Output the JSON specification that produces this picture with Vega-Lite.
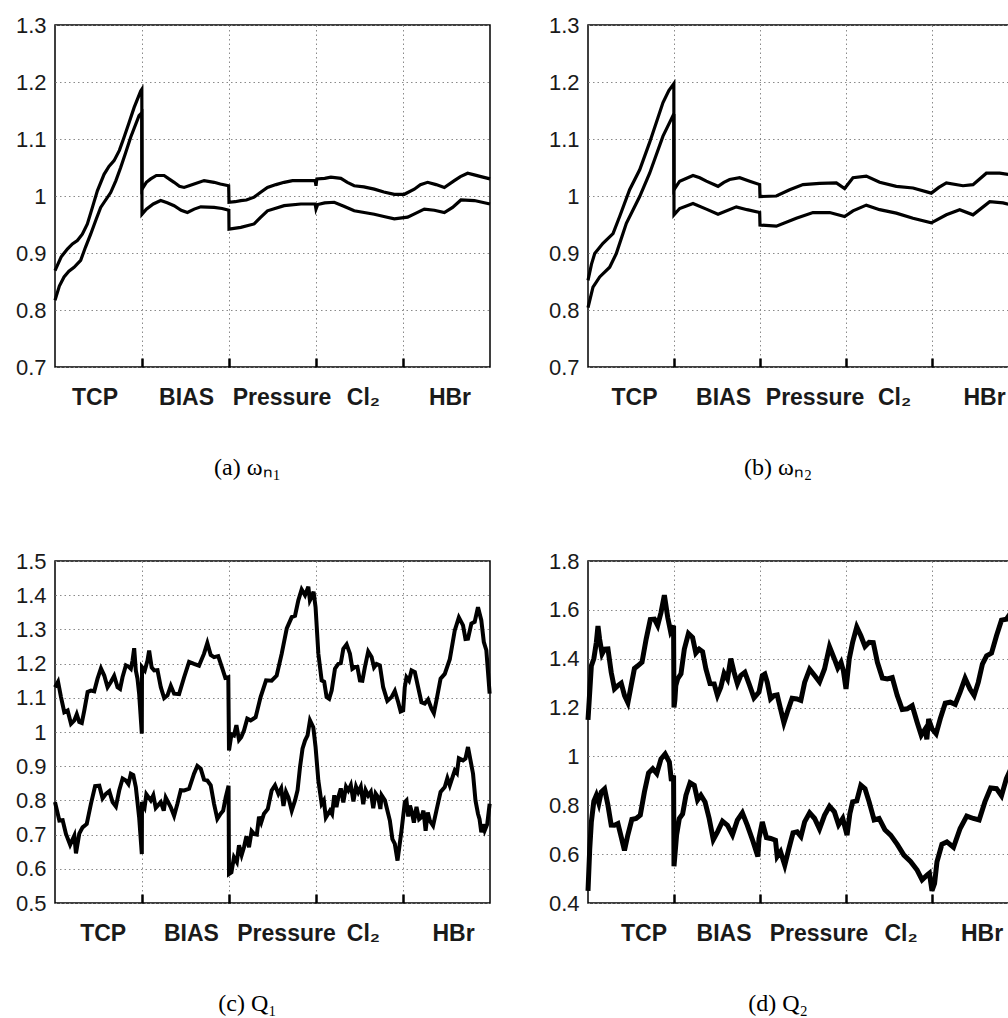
{
"$schema": "https://vega.github.io/schema/vega-lite/v6.json",
"background": "white",
"padding": {"left": 0, "top": 13, "right": 0, "bottom": 0},
"columns": 2,
"spacing": {"row": 68, "column": 34},
"config": {
  "view": {"stroke": "black", "strokeWidth": 1.5},
  "axis": {"domain": false, "grid": true, "gridColor": "#8a8a8a", "gridDash": [1.5, 3], "gridWidth": 1, "labelColor": "#1a1a1a", "labelFont": "Liberation Sans", "labelFlush": false, "labelOverlap": false, "title": null},
  "axisX": {"labelFontSize": 23, "labelFontWeight": "bold", "tickSize": -9, "tickWidth": 2.5, "tickColor": "black", "labelPadding": 28},
  "axisY": {"labelFontSize": 22, "ticks": false, "labelPadding": 9, "minExtent": 54, "maxExtent": 54},
  "title": {"font": "Liberation Serif", "fontSize": 24, "fontWeight": "normal", "color": "black", "orient": "bottom", "offset": 47, "anchor": "middle", "dx": -25}
},
"datasets": {
"a": [
{"x":0,"v":0.869,"s":"u"},{"x":0.07,"v":0.893,"s":"u"},{"x":0.142,"v":0.907,"s":"u"},{"x":0.2,"v":0.916,"s":"u"},{"x":0.257,"v":0.922,"s":"u"},{"x":0.314,"v":0.933,"s":"u"},{"x":0.372,"v":0.951,"s":"u"},{"x":0.43,"v":0.98,"s":"u"},{"x":0.487,"v":1.009,"s":"u"},{"x":0.564,"v":1.038,"s":"u"},{"x":0.62,"v":1.052,"s":"u"},{"x":0.679,"v":1.062,"s":"u"},{"x":0.74,"v":1.08,"s":"u"},{"x":0.794,"v":1.103,"s":"u"},{"x":0.85,"v":1.128,"s":"u"},{"x":0.909,"v":1.155,"s":"u"},{"x":0.985,"v":1.184,"s":"u"},{"x":0.998,"v":1.187,"s":"u"},{"x":1.0,"v":1.012,"s":"u"},{"x":1.05,"v":1.024,"s":"u"},{"x":1.1,"v":1.03,"s":"u"},{"x":1.165,"v":1.036,"s":"u"},{"x":1.254,"v":1.036,"s":"u"},{"x":1.31,"v":1.03,"s":"u"},{"x":1.369,"v":1.024,"s":"u"},{"x":1.43,"v":1.017,"s":"u"},{"x":1.484,"v":1.015,"s":"u"},{"x":1.54,"v":1.018,"s":"u"},{"x":1.599,"v":1.021,"s":"u"},{"x":1.714,"v":1.027,"s":"u"},{"x":1.829,"v":1.024,"s":"u"},{"x":1.9,"v":1.021,"s":"u"},{"x":1.996,"v":1.018,"s":"u"},{"x":2.0,"v":0.989,"s":"u"},{"x":2.07,"v":0.99,"s":"u"},{"x":2.136,"v":0.992,"s":"u"},{"x":2.2,"v":0.993,"s":"u"},{"x":2.289,"v":0.998,"s":"u"},{"x":2.36,"v":1.006,"s":"u"},{"x":2.442,"v":1.015,"s":"u"},{"x":2.54,"v":1.02,"s":"u"},{"x":2.634,"v":1.024,"s":"u"},{"x":2.73,"v":1.027,"s":"u"},{"x":2.826,"v":1.027,"s":"u"},{"x":2.99,"v":1.027,"s":"u"},{"x":3.0,"v":1.018,"s":"u"},{"x":3.01,"v":1.03,"s":"u"},{"x":3.1,"v":1.031,"s":"u"},{"x":3.171,"v":1.033,"s":"u"},{"x":3.286,"v":1.031,"s":"u"},{"x":3.36,"v":1.024,"s":"u"},{"x":3.439,"v":1.018,"s":"u"},{"x":3.55,"v":1.016,"s":"u"},{"x":3.67,"v":1.012,"s":"u"},{"x":3.78,"v":1.007,"s":"u"},{"x":3.9,"v":1.003,"s":"u"},{"x":4.015,"v":1.003,"s":"u"},{"x":4.13,"v":1.012,"s":"u"},{"x":4.2,"v":1.02,"s":"u"},{"x":4.283,"v":1.024,"s":"u"},{"x":4.38,"v":1.02,"s":"u"},{"x":4.475,"v":1.015,"s":"u"},{"x":4.59,"v":1.027,"s":"u"},{"x":4.66,"v":1.034,"s":"u"},{"x":4.743,"v":1.04,"s":"u"},{"x":4.82,"v":1.037,"s":"u"},{"x":4.896,"v":1.034,"s":"u"},{"x":5,"v":1.03,"s":"u"},
{"x":0,"v":0.817,"s":"l"},{"x":0.05,"v":0.842,"s":"l"},{"x":0.104,"v":0.858,"s":"l"},{"x":0.16,"v":0.868,"s":"l"},{"x":0.219,"v":0.875,"s":"l"},{"x":0.295,"v":0.887,"s":"l"},{"x":0.35,"v":0.91,"s":"l"},{"x":0.41,"v":0.933,"s":"l"},{"x":0.47,"v":0.958,"s":"l"},{"x":0.525,"v":0.98,"s":"l"},{"x":0.64,"v":1.006,"s":"l"},{"x":0.7,"v":1.027,"s":"l"},{"x":0.755,"v":1.05,"s":"l"},{"x":0.81,"v":1.075,"s":"l"},{"x":0.87,"v":1.103,"s":"l"},{"x":0.966,"v":1.141,"s":"l"},{"x":0.998,"v":1.146,"s":"l"},{"x":1.0,"v":0.968,"s":"l"},{"x":1.05,"v":0.977,"s":"l"},{"x":1.13,"v":0.986,"s":"l"},{"x":1.215,"v":0.992,"s":"l"},{"x":1.29,"v":0.988,"s":"l"},{"x":1.369,"v":0.983,"s":"l"},{"x":1.45,"v":0.975,"s":"l"},{"x":1.522,"v":0.971,"s":"l"},{"x":1.6,"v":0.977,"s":"l"},{"x":1.676,"v":0.981,"s":"l"},{"x":1.829,"v":0.98,"s":"l"},{"x":1.92,"v":0.978,"s":"l"},{"x":1.998,"v":0.975,"s":"l"},{"x":2.0,"v":0.942,"s":"l"},{"x":2.136,"v":0.945,"s":"l"},{"x":2.289,"v":0.951,"s":"l"},{"x":2.36,"v":0.962,"s":"l"},{"x":2.442,"v":0.974,"s":"l"},{"x":2.634,"v":0.983,"s":"l"},{"x":2.826,"v":0.986,"s":"l"},{"x":2.99,"v":0.986,"s":"l"},{"x":3.0,"v":0.977,"s":"l"},{"x":3.02,"v":0.985,"s":"l"},{"x":3.1,"v":0.988,"s":"l"},{"x":3.209,"v":0.989,"s":"l"},{"x":3.32,"v":0.982,"s":"l"},{"x":3.439,"v":0.974,"s":"l"},{"x":3.67,"v":0.968,"s":"l"},{"x":3.78,"v":0.964,"s":"l"},{"x":3.9,"v":0.96,"s":"l"},{"x":4.053,"v":0.963,"s":"l"},{"x":4.15,"v":0.97,"s":"l"},{"x":4.245,"v":0.977,"s":"l"},{"x":4.36,"v":0.975,"s":"l"},{"x":4.475,"v":0.971,"s":"l"},{"x":4.57,"v":0.98,"s":"l"},{"x":4.666,"v":0.993,"s":"l"},{"x":4.82,"v":0.992,"s":"l"},{"x":5,"v":0.986,"s":"l"}
],
"b": [
{"x":0,"v":0.852,"s":"u"},{"x":0.04,"v":0.88,"s":"u"},{"x":0.078,"v":0.899,"s":"u"},{"x":0.174,"v":0.917,"s":"u"},{"x":0.291,"v":0.934,"s":"u"},{"x":0.368,"v":0.964,"s":"u"},{"x":0.484,"v":1.011,"s":"u"},{"x":0.601,"v":1.046,"s":"u"},{"x":0.717,"v":1.094,"s":"u"},{"x":0.872,"v":1.164,"s":"u"},{"x":0.94,"v":1.185,"s":"u"},{"x":0.998,"v":1.197,"s":"u"},{"x":1.0,"v":1.011,"s":"u"},{"x":1.066,"v":1.026,"s":"u"},{"x":1.221,"v":1.036,"s":"u"},{"x":1.3,"v":1.032,"s":"u"},{"x":1.376,"v":1.026,"s":"u"},{"x":1.512,"v":1.017,"s":"u"},{"x":1.58,"v":1.024,"s":"u"},{"x":1.647,"v":1.029,"s":"u"},{"x":1.764,"v":1.032,"s":"u"},{"x":1.88,"v":1.026,"s":"u"},{"x":1.996,"v":1.02,"s":"u"},{"x":2.0,"v":0.999,"s":"u"},{"x":2.19,"v":1.0,"s":"u"},{"x":2.345,"v":1.011,"s":"u"},{"x":2.5,"v":1.02,"s":"u"},{"x":2.694,"v":1.022,"s":"u"},{"x":2.888,"v":1.023,"s":"u"},{"x":2.984,"v":1.013,"s":"u"},{"x":3.081,"v":1.032,"s":"u"},{"x":3.236,"v":1.035,"s":"u"},{"x":3.391,"v":1.024,"s":"u"},{"x":3.585,"v":1.017,"s":"u"},{"x":3.779,"v":1.014,"s":"u"},{"x":3.992,"v":1.005,"s":"u"},{"x":4.08,"v":1.015,"s":"u"},{"x":4.167,"v":1.023,"s":"u"},{"x":4.36,"v":1.018,"s":"u"},{"x":4.477,"v":1.02,"s":"u"},{"x":4.632,"v":1.04,"s":"u"},{"x":4.787,"v":1.04,"s":"u"},{"x":5,"v":1.035,"s":"u"},
{"x":0,"v":0.804,"s":"l"},{"x":0.058,"v":0.84,"s":"l"},{"x":0.136,"v":0.858,"s":"l"},{"x":0.252,"v":0.875,"s":"l"},{"x":0.329,"v":0.899,"s":"l"},{"x":0.446,"v":0.952,"s":"l"},{"x":0.601,"v":0.999,"s":"l"},{"x":0.717,"v":1.04,"s":"l"},{"x":0.872,"v":1.105,"s":"l"},{"x":0.998,"v":1.144,"s":"l"},{"x":1.0,"v":0.967,"s":"l"},{"x":1.066,"v":0.978,"s":"l"},{"x":1.221,"v":0.987,"s":"l"},{"x":1.376,"v":0.977,"s":"l"},{"x":1.512,"v":0.968,"s":"l"},{"x":1.725,"v":0.981,"s":"l"},{"x":1.85,"v":0.976,"s":"l"},{"x":1.996,"v":0.971,"s":"l"},{"x":2.0,"v":0.949,"s":"l"},{"x":2.19,"v":0.947,"s":"l"},{"x":2.422,"v":0.961,"s":"l"},{"x":2.616,"v":0.971,"s":"l"},{"x":2.81,"v":0.971,"s":"l"},{"x":2.984,"v":0.964,"s":"l"},{"x":3.081,"v":0.974,"s":"l"},{"x":3.236,"v":0.984,"s":"l"},{"x":3.391,"v":0.976,"s":"l"},{"x":3.585,"v":0.97,"s":"l"},{"x":3.779,"v":0.961,"s":"l"},{"x":3.992,"v":0.953,"s":"l"},{"x":4.167,"v":0.967,"s":"l"},{"x":4.322,"v":0.976,"s":"l"},{"x":4.477,"v":0.967,"s":"l"},{"x":4.671,"v":0.99,"s":"l"},{"x":4.826,"v":0.988,"s":"l"},{"x":5,"v":0.981,"s":"l"}
],
"c": [
{"x":0,"v":1.131,"s":"u"},{"x":0.035,"v":1.147,"s":"u"},{"x":0.069,"v":1.102,"s":"u"},{"x":0.107,"v":1.058,"s":"u"},{"x":0.145,"v":1.063,"s":"u"},{"x":0.184,"v":1.024,"s":"u"},{"x":0.222,"v":1.034,"s":"u"},{"x":0.25,"v":1.052,"s":"u"},{"x":0.279,"v":1.029,"s":"u"},{"x":0.308,"v":1.026,"s":"u"},{"x":0.337,"v":1.063,"s":"u"},{"x":0.375,"v":1.117,"s":"u"},{"x":0.413,"v":1.121,"s":"u"},{"x":0.451,"v":1.119,"s":"u"},{"x":0.489,"v":1.156,"s":"u"},{"x":0.528,"v":1.186,"s":"u"},{"x":0.566,"v":1.165,"s":"u"},{"x":0.604,"v":1.131,"s":"u"},{"x":0.642,"v":1.146,"s":"u"},{"x":0.68,"v":1.164,"s":"u"},{"x":0.719,"v":1.131,"s":"u"},{"x":0.748,"v":1.126,"s":"u"},{"x":0.776,"v":1.16,"s":"u"},{"x":0.815,"v":1.195,"s":"u"},{"x":0.853,"v":1.19,"s":"u"},{"x":0.872,"v":1.185,"s":"u"},{"x":0.891,"v":1.209,"s":"u"},{"x":0.91,"v":1.245,"s":"u"},{"x":0.929,"v":1.18,"s":"u"},{"x":0.948,"v":1.156,"s":"u"},{"x":0.967,"v":1.112,"s":"u"},{"x":0.998,"v":0.995,"s":"u"},{"x":1.0,"v":1.19,"s":"u"},{"x":1.032,"v":1.18,"s":"u"},{"x":1.063,"v":1.209,"s":"u"},{"x":1.082,"v":1.238,"s":"u"},{"x":1.111,"v":1.189,"s":"u"},{"x":1.14,"v":1.18,"s":"u"},{"x":1.178,"v":1.181,"s":"u"},{"x":1.216,"v":1.131,"s":"u"},{"x":1.255,"v":1.099,"s":"u"},{"x":1.293,"v":1.107,"s":"u"},{"x":1.331,"v":1.135,"s":"u"},{"x":1.369,"v":1.112,"s":"u"},{"x":1.426,"v":1.111,"s":"u"},{"x":1.484,"v":1.16,"s":"u"},{"x":1.541,"v":1.205,"s":"u"},{"x":1.598,"v":1.199,"s":"u"},{"x":1.655,"v":1.194,"s":"u"},{"x":1.713,"v":1.229,"s":"u"},{"x":1.751,"v":1.26,"s":"u"},{"x":1.79,"v":1.225,"s":"u"},{"x":1.828,"v":1.219,"s":"u"},{"x":1.876,"v":1.222,"s":"u"},{"x":1.924,"v":1.185,"s":"u"},{"x":1.958,"v":1.158,"s":"u"},{"x":1.992,"v":1.16,"s":"u"},{"x":2.0,"v":0.946,"s":"u"},{"x":2.028,"v":0.993,"s":"u"},{"x":2.057,"v":0.99,"s":"u"},{"x":2.085,"v":1.02,"s":"u"},{"x":2.115,"v":0.977,"s":"u"},{"x":2.14,"v":0.985,"s":"u"},{"x":2.172,"v":1.004,"s":"u"},{"x":2.21,"v":1.039,"s":"u"},{"x":2.249,"v":1.034,"s":"u"},{"x":2.306,"v":1.043,"s":"u"},{"x":2.363,"v":1.102,"s":"u"},{"x":2.426,"v":1.151,"s":"u"},{"x":2.49,"v":1.15,"s":"u"},{"x":2.548,"v":1.165,"s":"u"},{"x":2.606,"v":1.229,"s":"u"},{"x":2.664,"v":1.303,"s":"u"},{"x":2.721,"v":1.336,"s":"u"},{"x":2.759,"v":1.34,"s":"u"},{"x":2.797,"v":1.385,"s":"u"},{"x":2.835,"v":1.417,"s":"u"},{"x":2.874,"v":1.4,"s":"u"},{"x":2.912,"v":1.425,"s":"u"},{"x":2.93,"v":1.385,"s":"u"},{"x":2.95,"v":1.395,"s":"u"},{"x":2.972,"v":1.41,"s":"u"},{"x":2.995,"v":1.365,"s":"u"},{"x":3.027,"v":1.229,"s":"u"},{"x":3.065,"v":1.151,"s":"u"},{"x":3.094,"v":1.147,"s":"u"},{"x":3.122,"v":1.102,"s":"u"},{"x":3.151,"v":1.097,"s":"u"},{"x":3.18,"v":1.121,"s":"u"},{"x":3.218,"v":1.185,"s":"u"},{"x":3.256,"v":1.199,"s":"u"},{"x":3.285,"v":1.201,"s":"u"},{"x":3.314,"v":1.243,"s":"u"},{"x":3.352,"v":1.256,"s":"u"},{"x":3.39,"v":1.229,"s":"u"},{"x":3.418,"v":1.185,"s":"u"},{"x":3.447,"v":1.19,"s":"u"},{"x":3.476,"v":1.19,"s":"u"},{"x":3.505,"v":1.151,"s":"u"},{"x":3.533,"v":1.15,"s":"u"},{"x":3.562,"v":1.19,"s":"u"},{"x":3.6,"v":1.235,"s":"u"},{"x":3.639,"v":1.219,"s":"u"},{"x":3.667,"v":1.189,"s":"u"},{"x":3.696,"v":1.199,"s":"u"},{"x":3.734,"v":1.195,"s":"u"},{"x":3.772,"v":1.131,"s":"u"},{"x":3.82,"v":1.091,"s":"u"},{"x":3.868,"v":1.102,"s":"u"},{"x":3.906,"v":1.12,"s":"u"},{"x":3.945,"v":1.087,"s":"u"},{"x":3.973,"v":1.06,"s":"u"},{"x":4.002,"v":1.063,"s":"u"},{"x":4.02,"v":1.13,"s":"u"},{"x":4.04,"v":1.16,"s":"u"},{"x":4.069,"v":1.15,"s":"u"},{"x":4.098,"v":1.18,"s":"u"},{"x":4.136,"v":1.175,"s":"u"},{"x":4.174,"v":1.131,"s":"u"},{"x":4.212,"v":1.087,"s":"u"},{"x":4.25,"v":1.083,"s":"u"},{"x":4.288,"v":1.095,"s":"u"},{"x":4.327,"v":1.068,"s":"u"},{"x":4.355,"v":1.055,"s":"u"},{"x":4.384,"v":1.092,"s":"u"},{"x":4.432,"v":1.156,"s":"u"},{"x":4.48,"v":1.17,"s":"u"},{"x":4.538,"v":1.213,"s":"u"},{"x":4.595,"v":1.297,"s":"u"},{"x":4.642,"v":1.335,"s":"u"},{"x":4.69,"v":1.312,"s":"u"},{"x":4.718,"v":1.272,"s":"u"},{"x":4.747,"v":1.273,"s":"u"},{"x":4.786,"v":1.317,"s":"u"},{"x":4.824,"v":1.322,"s":"u"},{"x":4.862,"v":1.365,"s":"u"},{"x":4.9,"v":1.327,"s":"u"},{"x":4.929,"v":1.263,"s":"u"},{"x":4.958,"v":1.239,"s":"u"},{"x":4.996,"v":1.112,"s":"u"},
{"x":0,"v":0.795,"s":"l"},{"x":0.05,"v":0.741,"s":"l"},{"x":0.088,"v":0.742,"s":"l"},{"x":0.126,"v":0.702,"s":"l"},{"x":0.174,"v":0.67,"s":"l"},{"x":0.222,"v":0.697,"s":"l"},{"x":0.241,"v":0.645,"s":"l"},{"x":0.279,"v":0.703,"s":"l"},{"x":0.317,"v":0.721,"s":"l"},{"x":0.365,"v":0.731,"s":"l"},{"x":0.413,"v":0.79,"s":"l"},{"x":0.461,"v":0.842,"s":"l"},{"x":0.509,"v":0.843,"s":"l"},{"x":0.547,"v":0.806,"s":"l"},{"x":0.585,"v":0.819,"s":"l"},{"x":0.624,"v":0.827,"s":"l"},{"x":0.662,"v":0.795,"s":"l"},{"x":0.7,"v":0.782,"s":"l"},{"x":0.738,"v":0.829,"s":"l"},{"x":0.777,"v":0.864,"s":"l"},{"x":0.815,"v":0.858,"s":"l"},{"x":0.844,"v":0.848,"s":"l"},{"x":0.872,"v":0.878,"s":"l"},{"x":0.9,"v":0.874,"s":"l"},{"x":0.929,"v":0.839,"s":"l"},{"x":0.967,"v":0.751,"s":"l"},{"x":0.998,"v":0.643,"s":"l"},{"x":1.0,"v":0.795,"s":"l"},{"x":1.03,"v":0.78,"s":"l"},{"x":1.05,"v":0.818,"s":"l"},{"x":1.101,"v":0.8,"s":"l"},{"x":1.13,"v":0.815,"s":"l"},{"x":1.158,"v":0.778,"s":"l"},{"x":1.216,"v":0.795,"s":"l"},{"x":1.25,"v":0.77,"s":"l"},{"x":1.273,"v":0.808,"s":"l"},{"x":1.331,"v":0.78,"s":"l"},{"x":1.369,"v":0.755,"s":"l"},{"x":1.407,"v":0.79,"s":"l"},{"x":1.446,"v":0.83,"s":"l"},{"x":1.484,"v":0.829,"s":"l"},{"x":1.541,"v":0.834,"s":"l"},{"x":1.598,"v":0.878,"s":"l"},{"x":1.636,"v":0.901,"s":"l"},{"x":1.675,"v":0.893,"s":"l"},{"x":1.713,"v":0.861,"s":"l"},{"x":1.751,"v":0.858,"s":"l"},{"x":1.79,"v":0.844,"s":"l"},{"x":1.828,"v":0.79,"s":"l"},{"x":1.866,"v":0.746,"s":"l"},{"x":1.904,"v":0.761,"s":"l"},{"x":1.933,"v":0.77,"s":"l"},{"x":1.962,"v":0.809,"s":"l"},{"x":1.995,"v":0.843,"s":"l"},{"x":2.0,"v":0.585,"s":"l"},{"x":2.028,"v":0.59,"s":"l"},{"x":2.057,"v":0.634,"s":"l"},{"x":2.09,"v":0.62,"s":"l"},{"x":2.115,"v":0.669,"s":"l"},{"x":2.145,"v":0.64,"s":"l"},{"x":2.172,"v":0.663,"s":"l"},{"x":2.2,"v":0.695,"s":"l"},{"x":2.23,"v":0.663,"s":"l"},{"x":2.26,"v":0.71,"s":"l"},{"x":2.287,"v":0.702,"s":"l"},{"x":2.32,"v":0.7,"s":"l"},{"x":2.345,"v":0.752,"s":"l"},{"x":2.37,"v":0.735,"s":"l"},{"x":2.402,"v":0.761,"s":"l"},{"x":2.446,"v":0.775,"s":"l"},{"x":2.49,"v":0.829,"s":"l"},{"x":2.529,"v":0.844,"s":"l"},{"x":2.568,"v":0.819,"s":"l"},{"x":2.6,"v":0.835,"s":"l"},{"x":2.626,"v":0.784,"s":"l"},{"x":2.655,"v":0.825,"s":"l"},{"x":2.683,"v":0.809,"s":"l"},{"x":2.721,"v":0.77,"s":"l"},{"x":2.759,"v":0.8,"s":"l"},{"x":2.788,"v":0.83,"s":"l"},{"x":2.816,"v":0.897,"s":"l"},{"x":2.845,"v":0.951,"s":"l"},{"x":2.874,"v":0.975,"s":"l"},{"x":2.903,"v":0.99,"s":"l"},{"x":2.931,"v":1.034,"s":"l"},{"x":2.969,"v":1.014,"s":"l"},{"x":2.995,"v":0.956,"s":"l"},{"x":3.027,"v":0.858,"s":"l"},{"x":3.065,"v":0.79,"s":"l"},{"x":3.09,"v":0.8,"s":"l"},{"x":3.113,"v":0.75,"s":"l"},{"x":3.161,"v":0.77,"s":"l"},{"x":3.185,"v":0.76,"s":"l"},{"x":3.21,"v":0.815,"s":"l"},{"x":3.235,"v":0.78,"s":"l"},{"x":3.256,"v":0.809,"s":"l"},{"x":3.285,"v":0.835,"s":"l"},{"x":3.314,"v":0.794,"s":"l"},{"x":3.345,"v":0.84,"s":"l"},{"x":3.371,"v":0.829,"s":"l"},{"x":3.4,"v":0.845,"s":"l"},{"x":3.43,"v":0.797,"s":"l"},{"x":3.46,"v":0.84,"s":"l"},{"x":3.486,"v":0.824,"s":"l"},{"x":3.515,"v":0.84,"s":"l"},{"x":3.543,"v":0.789,"s":"l"},{"x":3.57,"v":0.83,"s":"l"},{"x":3.6,"v":0.814,"s":"l"},{"x":3.63,"v":0.825,"s":"l"},{"x":3.658,"v":0.777,"s":"l"},{"x":3.685,"v":0.82,"s":"l"},{"x":3.715,"v":0.809,"s":"l"},{"x":3.74,"v":0.775,"s":"l"},{"x":3.754,"v":0.815,"s":"l"},{"x":3.792,"v":0.8,"s":"l"},{"x":3.849,"v":0.741,"s":"l"},{"x":3.878,"v":0.687,"s":"l"},{"x":3.906,"v":0.673,"s":"l"},{"x":3.937,"v":0.624,"s":"l"},{"x":3.983,"v":0.712,"s":"l"},{"x":4.021,"v":0.795,"s":"l"},{"x":4.04,"v":0.8,"s":"l"},{"x":4.06,"v":0.753,"s":"l"},{"x":4.08,"v":0.785,"s":"l"},{"x":4.098,"v":0.77,"s":"l"},{"x":4.125,"v":0.735,"s":"l"},{"x":4.155,"v":0.781,"s":"l"},{"x":4.185,"v":0.745,"s":"l"},{"x":4.212,"v":0.751,"s":"l"},{"x":4.235,"v":0.77,"s":"l"},{"x":4.26,"v":0.711,"s":"l"},{"x":4.285,"v":0.765,"s":"l"},{"x":4.308,"v":0.741,"s":"l"},{"x":4.346,"v":0.726,"s":"l"},{"x":4.384,"v":0.77,"s":"l"},{"x":4.432,"v":0.825,"s":"l"},{"x":4.48,"v":0.839,"s":"l"},{"x":4.51,"v":0.865,"s":"l"},{"x":4.538,"v":0.844,"s":"l"},{"x":4.595,"v":0.888,"s":"l"},{"x":4.62,"v":0.88,"s":"l"},{"x":4.642,"v":0.923,"s":"l"},{"x":4.69,"v":0.917,"s":"l"},{"x":4.718,"v":0.922,"s":"l"},{"x":4.747,"v":0.956,"s":"l"},{"x":4.805,"v":0.878,"s":"l"},{"x":4.833,"v":0.8,"s":"l"},{"x":4.862,"v":0.761,"s":"l"},{"x":4.88,"v":0.745,"s":"l"},{"x":4.9,"v":0.707,"s":"l"},{"x":4.92,"v":0.73,"s":"l"},{"x":4.939,"v":0.712,"s":"l"},{"x":4.968,"v":0.73,"s":"l"},{"x":4.996,"v":0.79,"s":"l"}
],
"d": [
{"x":0,"v":1.15,"s":"u"},{"x":0.039,"v":1.371,"s":"u"},{"x":0.068,"v":1.4,"s":"u"},{"x":0.097,"v":1.467,"s":"u"},{"x":0.116,"v":1.534,"s":"u"},{"x":0.135,"v":1.48,"s":"u"},{"x":0.164,"v":1.42,"s":"u"},{"x":0.193,"v":1.439,"s":"u"},{"x":0.232,"v":1.44,"s":"u"},{"x":0.27,"v":1.344,"s":"u"},{"x":0.308,"v":1.277,"s":"u"},{"x":0.347,"v":1.29,"s":"u"},{"x":0.386,"v":1.3,"s":"u"},{"x":0.425,"v":1.249,"s":"u"},{"x":0.464,"v":1.22,"s":"u"},{"x":0.502,"v":1.29,"s":"u"},{"x":0.54,"v":1.36,"s":"u"},{"x":0.579,"v":1.371,"s":"u"},{"x":0.628,"v":1.386,"s":"u"},{"x":0.676,"v":1.48,"s":"u"},{"x":0.724,"v":1.56,"s":"u"},{"x":0.772,"v":1.562,"s":"u"},{"x":0.81,"v":1.536,"s":"u"},{"x":0.849,"v":1.589,"s":"u"},{"x":0.888,"v":1.66,"s":"u"},{"x":0.927,"v":1.569,"s":"u"},{"x":0.96,"v":1.512,"s":"u"},{"x":0.995,"v":1.535,"s":"u"},{"x":1.0,"v":1.2,"s":"u"},{"x":1.01,"v":1.23,"s":"u"},{"x":1.021,"v":1.29,"s":"u"},{"x":1.042,"v":1.317,"s":"u"},{"x":1.081,"v":1.338,"s":"u"},{"x":1.12,"v":1.439,"s":"u"},{"x":1.168,"v":1.503,"s":"u"},{"x":1.216,"v":1.487,"s":"u"},{"x":1.254,"v":1.423,"s":"u"},{"x":1.293,"v":1.439,"s":"u"},{"x":1.332,"v":1.429,"s":"u"},{"x":1.371,"v":1.358,"s":"u"},{"x":1.419,"v":1.298,"s":"u"},{"x":1.467,"v":1.297,"s":"u"},{"x":1.505,"v":1.25,"s":"u"},{"x":1.544,"v":1.283,"s":"u"},{"x":1.583,"v":1.34,"s":"u"},{"x":1.622,"v":1.317,"s":"u"},{"x":1.66,"v":1.4,"s":"u"},{"x":1.699,"v":1.344,"s":"u"},{"x":1.737,"v":1.298,"s":"u"},{"x":1.776,"v":1.331,"s":"u"},{"x":1.824,"v":1.344,"s":"u"},{"x":1.873,"v":1.297,"s":"u"},{"x":1.93,"v":1.24,"s":"u"},{"x":1.988,"v":1.263,"s":"u"},{"x":2.027,"v":1.331,"s":"u"},{"x":2.056,"v":1.337,"s":"u"},{"x":2.085,"v":1.303,"s":"u"},{"x":2.123,"v":1.236,"s":"u"},{"x":2.162,"v":1.249,"s":"u"},{"x":2.2,"v":1.252,"s":"u"},{"x":2.239,"v":1.195,"s":"u"},{"x":2.278,"v":1.138,"s":"u"},{"x":2.317,"v":1.181,"s":"u"},{"x":2.373,"v":1.238,"s":"u"},{"x":2.43,"v":1.235,"s":"u"},{"x":2.475,"v":1.229,"s":"u"},{"x":2.519,"v":1.303,"s":"u"},{"x":2.577,"v":1.357,"s":"u"},{"x":2.635,"v":1.331,"s":"u"},{"x":2.692,"v":1.305,"s":"u"},{"x":2.75,"v":1.358,"s":"u"},{"x":2.808,"v":1.449,"s":"u"},{"x":2.865,"v":1.399,"s":"u"},{"x":2.904,"v":1.362,"s":"u"},{"x":2.942,"v":1.385,"s":"u"},{"x":2.97,"v":1.35,"s":"u"},{"x":3.0,"v":1.276,"s":"u"},{"x":3.038,"v":1.4,"s":"u"},{"x":3.077,"v":1.467,"s":"u"},{"x":3.125,"v":1.53,"s":"u"},{"x":3.173,"v":1.494,"s":"u"},{"x":3.221,"v":1.45,"s":"u"},{"x":3.269,"v":1.467,"s":"u"},{"x":3.317,"v":1.466,"s":"u"},{"x":3.365,"v":1.385,"s":"u"},{"x":3.423,"v":1.321,"s":"u"},{"x":3.481,"v":1.317,"s":"u"},{"x":3.538,"v":1.323,"s":"u"},{"x":3.596,"v":1.249,"s":"u"},{"x":3.654,"v":1.192,"s":"u"},{"x":3.712,"v":1.195,"s":"u"},{"x":3.77,"v":1.208,"s":"u"},{"x":3.827,"v":1.14,"s":"u"},{"x":3.875,"v":1.087,"s":"u"},{"x":3.923,"v":1.113,"s":"u"},{"x":3.94,"v":1.07,"s":"u"},{"x":3.961,"v":1.153,"s":"u"},{"x":4.0,"v":1.113,"s":"u"},{"x":4.048,"v":1.093,"s":"u"},{"x":4.096,"v":1.154,"s":"u"},{"x":4.154,"v":1.218,"s":"u"},{"x":4.212,"v":1.222,"s":"u"},{"x":4.27,"v":1.213,"s":"u"},{"x":4.327,"v":1.263,"s":"u"},{"x":4.385,"v":1.32,"s":"u"},{"x":4.442,"v":1.276,"s":"u"},{"x":4.49,"v":1.25,"s":"u"},{"x":4.538,"v":1.303,"s":"u"},{"x":4.586,"v":1.378,"s":"u"},{"x":4.635,"v":1.412,"s":"u"},{"x":4.692,"v":1.423,"s":"u"},{"x":4.75,"v":1.494,"s":"u"},{"x":4.808,"v":1.558,"s":"u"},{"x":4.865,"v":1.562,"s":"u"},{"x":4.921,"v":1.59,"s":"u"},{"x":4.977,"v":1.521,"s":"u"},{"x":5,"v":1.53,"s":"u"},
{"x":0,"v":0.45,"s":"l"},{"x":0.02,"v":0.62,"s":"l"},{"x":0.039,"v":0.732,"s":"l"},{"x":0.068,"v":0.817,"s":"l"},{"x":0.097,"v":0.841,"s":"l"},{"x":0.126,"v":0.808,"s":"l"},{"x":0.154,"v":0.854,"s":"l"},{"x":0.193,"v":0.867,"s":"l"},{"x":0.232,"v":0.8,"s":"l"},{"x":0.27,"v":0.719,"s":"l"},{"x":0.309,"v":0.718,"s":"l"},{"x":0.348,"v":0.725,"s":"l"},{"x":0.386,"v":0.671,"s":"l"},{"x":0.424,"v":0.615,"s":"l"},{"x":0.463,"v":0.678,"s":"l"},{"x":0.51,"v":0.742,"s":"l"},{"x":0.56,"v":0.746,"s":"l"},{"x":0.608,"v":0.76,"s":"l"},{"x":0.656,"v":0.854,"s":"l"},{"x":0.704,"v":0.932,"s":"l"},{"x":0.753,"v":0.95,"s":"l"},{"x":0.8,"v":0.93,"s":"l"},{"x":0.849,"v":0.99,"s":"l"},{"x":0.897,"v":1.01,"s":"l"},{"x":0.946,"v":0.977,"s":"l"},{"x":0.97,"v":0.9,"s":"l"},{"x":0.995,"v":0.922,"s":"l"},{"x":1.0,"v":0.55,"s":"l"},{"x":1.03,"v":0.678,"s":"l"},{"x":1.062,"v":0.746,"s":"l"},{"x":1.1,"v":0.764,"s":"l"},{"x":1.139,"v":0.841,"s":"l"},{"x":1.187,"v":0.892,"s":"l"},{"x":1.236,"v":0.882,"s":"l"},{"x":1.274,"v":0.822,"s":"l"},{"x":1.313,"v":0.841,"s":"l"},{"x":1.361,"v":0.814,"s":"l"},{"x":1.409,"v":0.746,"s":"l"},{"x":1.457,"v":0.659,"s":"l"},{"x":1.506,"v":0.691,"s":"l"},{"x":1.564,"v":0.735,"s":"l"},{"x":1.622,"v":0.718,"s":"l"},{"x":1.68,"v":0.679,"s":"l"},{"x":1.737,"v":0.739,"s":"l"},{"x":1.795,"v":0.769,"s":"l"},{"x":1.853,"v":0.718,"s":"l"},{"x":1.92,"v":0.651,"s":"l"},{"x":1.975,"v":0.59,"s":"l"},{"x":1.988,"v":0.664,"s":"l"},{"x":2.027,"v":0.732,"s":"l"},{"x":2.075,"v":0.668,"s":"l"},{"x":2.124,"v":0.664,"s":"l"},{"x":2.18,"v":0.657,"s":"l"},{"x":2.2,"v":0.59,"s":"l"},{"x":2.239,"v":0.61,"s":"l"},{"x":2.288,"v":0.555,"s":"l"},{"x":2.336,"v":0.623,"s":"l"},{"x":2.384,"v":0.687,"s":"l"},{"x":2.432,"v":0.691,"s":"l"},{"x":2.476,"v":0.672,"s":"l"},{"x":2.519,"v":0.732,"s":"l"},{"x":2.577,"v":0.769,"s":"l"},{"x":2.635,"v":0.746,"s":"l"},{"x":2.692,"v":0.703,"s":"l"},{"x":2.75,"v":0.759,"s":"l"},{"x":2.808,"v":0.796,"s":"l"},{"x":2.865,"v":0.773,"s":"l"},{"x":2.914,"v":0.72,"s":"l"},{"x":2.962,"v":0.746,"s":"l"},{"x":3.012,"v":0.678,"s":"l"},{"x":3.045,"v":0.766,"s":"l"},{"x":3.077,"v":0.814,"s":"l"},{"x":3.125,"v":0.818,"s":"l"},{"x":3.173,"v":0.882,"s":"l"},{"x":3.221,"v":0.868,"s":"l"},{"x":3.269,"v":0.814,"s":"l"},{"x":3.327,"v":0.74,"s":"l"},{"x":3.385,"v":0.746,"s":"l"},{"x":3.452,"v":0.7,"s":"l"},{"x":3.519,"v":0.678,"s":"l"},{"x":3.596,"v":0.64,"s":"l"},{"x":3.673,"v":0.596,"s":"l"},{"x":3.75,"v":0.57,"s":"l"},{"x":3.827,"v":0.535,"s":"l"},{"x":3.885,"v":0.495,"s":"l"},{"x":3.942,"v":0.514,"s":"l"},{"x":3.97,"v":0.522,"s":"l"},{"x":4.0,"v":0.45,"s":"l"},{"x":4.03,"v":0.48,"s":"l"},{"x":4.058,"v":0.569,"s":"l"},{"x":4.115,"v":0.64,"s":"l"},{"x":4.173,"v":0.65,"s":"l"},{"x":4.25,"v":0.628,"s":"l"},{"x":4.327,"v":0.705,"s":"l"},{"x":4.404,"v":0.756,"s":"l"},{"x":4.481,"v":0.746,"s":"l"},{"x":4.548,"v":0.74,"s":"l"},{"x":4.615,"v":0.814,"s":"l"},{"x":4.682,"v":0.871,"s":"l"},{"x":4.75,"v":0.868,"s":"l"},{"x":4.808,"v":0.839,"s":"l"},{"x":4.865,"v":0.909,"s":"l"},{"x":4.921,"v":0.953,"s":"l"},{"x":4.977,"v":0.936,"s":"l"},{"x":5,"v":0.94,"s":"l"}
]
},
"concat": [
{
  "width": 435, "height": 342,
  "title": {"text": "(a)  ωₙ₁"},
  "data": {"name": "a"},
  "mark": {"type": "line", "color": "black", "strokeWidth": 3.2},
  "encoding": {
    "x": {"field": "x", "type": "quantitative", "scale": {"domain": [0, 5], "nice": false, "zero": false},
      "axis": {"values": [0.454, 1, 1.506, 2, 2.603, 3, 3.54, 4, 4.534],
        "labelExpr": "datum.value % 1 == 0 ? '' : datum.value < 1 ? 'TCP' : datum.value < 2 ? 'BIAS' : datum.value < 3 ? 'Pressure' : datum.value < 4 ? 'Cl₂' : 'HBr'",
        "tickOpacity": {"condition": {"test": "datum.value % 1 == 0", "value": 1}, "value": 0},
        "gridOpacity": {"condition": {"test": "datum.value % 1 == 0", "value": 1}, "value": 0}}},
    "y": {"field": "v", "type": "quantitative", "scale": {"domain": [0.7, 1.3], "nice": false, "zero": false},
      "axis": {"values": [0.7, 0.8, 0.9, 1, 1.1, 1.2, 1.3], "format": ".1~f"}},
    "detail": {"field": "s"}
  }
},
{
  "width": 430, "height": 342,
  "title": {"text": "(b)  ωₙ₂"},
  "data": {"name": "b"},
  "mark": {"type": "line", "color": "black", "strokeWidth": 3.2},
  "encoding": {
    "x": {"field": "x", "type": "quantitative", "scale": {"domain": [0, 5], "nice": false, "zero": false},
      "axis": {"values": [0.535, 1, 1.57, 2, 2.634, 3, 3.558, 4, 4.605],
        "labelExpr": "datum.value % 1 == 0 ? '' : datum.value < 1 ? 'TCP' : datum.value < 2 ? 'BIAS' : datum.value < 3 ? 'Pressure' : datum.value < 4 ? 'Cl₂' : 'HBr'",
        "tickOpacity": {"condition": {"test": "datum.value % 1 == 0", "value": 1}, "value": 0},
        "gridOpacity": {"condition": {"test": "datum.value % 1 == 0", "value": 1}, "value": 0}}},
    "y": {"field": "v", "type": "quantitative", "scale": {"domain": [0.7, 1.3], "nice": false, "zero": false},
      "axis": {"values": [0.7, 0.8, 0.9, 1, 1.1, 1.2, 1.3], "format": ".1~f"}},
    "detail": {"field": "s"}
  }
},
{
  "width": 435, "height": 342,
  "title": {"text": "(c)  Q₁"},
  "data": {"name": "c"},
  "mark": {"type": "line", "color": "black", "strokeWidth": 4},
  "encoding": {
    "x": {"field": "x", "type": "quantitative", "scale": {"domain": [0, 5], "nice": false, "zero": false},
      "axis": {"values": [0.548, 1, 1.563, 2, 2.655, 3, 3.54, 4, 4.575],
        "labelExpr": "datum.value % 1 == 0 ? '' : datum.value < 1 ? 'TCP' : datum.value < 2 ? 'BIAS' : datum.value < 3 ? 'Pressure' : datum.value < 4 ? 'Cl₂' : 'HBr'",
        "tickOpacity": {"condition": {"test": "datum.value % 1 == 0", "value": 1}, "value": 0},
        "gridOpacity": {"condition": {"test": "datum.value % 1 == 0", "value": 1}, "value": 0}}},
    "y": {"field": "v", "type": "quantitative", "scale": {"domain": [0.5, 1.5], "nice": false, "zero": false},
      "axis": {"values": [0.5, 0.6, 0.7, 0.8, 0.9, 1, 1.1, 1.2, 1.3, 1.4, 1.5], "format": ".1~f"}},
    "detail": {"field": "s"}
  }
},
{
  "width": 430, "height": 342,
  "title": {"text": "(d)  Q₂"},
  "data": {"name": "d"},
  "mark": {"type": "line", "color": "black", "strokeWidth": 5},
  "encoding": {
    "x": {"field": "x", "type": "quantitative", "scale": {"domain": [0, 5], "nice": false, "zero": false},
      "axis": {"values": [0.645, 1, 1.576, 2, 2.68, 3, 3.634, 4, 4.576],
        "labelExpr": "datum.value % 1 == 0 ? '' : datum.value < 1 ? 'TCP' : datum.value < 2 ? 'BIAS' : datum.value < 3 ? 'Pressure' : datum.value < 4 ? 'Cl₂' : 'HBr'",
        "tickOpacity": {"condition": {"test": "datum.value % 1 == 0", "value": 1}, "value": 0},
        "gridOpacity": {"condition": {"test": "datum.value % 1 == 0", "value": 1}, "value": 0}}},
    "y": {"field": "v", "type": "quantitative", "scale": {"domain": [0.4, 1.8], "nice": false, "zero": false},
      "axis": {"values": [0.4, 0.6, 0.8, 1, 1.2, 1.4, 1.6, 1.8], "format": ".1~f"}},
    "detail": {"field": "s"}
  }
}
]
}
